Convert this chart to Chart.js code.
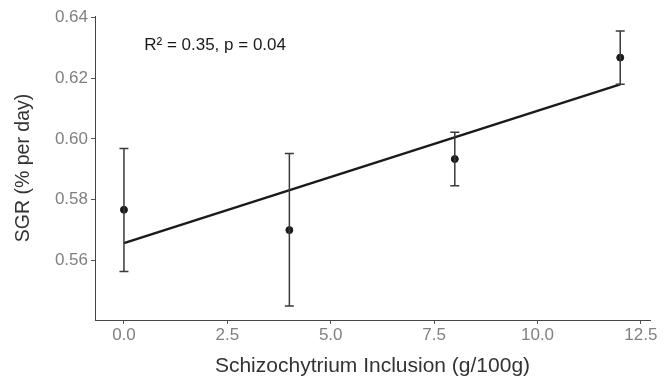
<!DOCTYPE html>
<html>
<head>
<meta charset="utf-8">
<script src="https://cdn.jsdelivr.net/npm/chart.js@4.4.1/dist/chart.umd.min.js"></script>
<style>
  html, body { margin: 0; padding: 0; background: #fff; }
  #wrap { width: 670px; height: 382px; }
</style>
</head>
<body>
<div id="wrap"><canvas id="chartSGR"></canvas></div>
<script>
/* ---------- datos ---------- */
const inclusion = [0, 4, 8, 12];
const sgrMedia = [0.5767, 0.5700, 0.5934, 0.6268];
const sgrInf = [0.5564, 0.5450, 0.5846, 0.6180];
const sgrSup = [0.5969, 0.5952, 0.6022, 0.6356];
const ajusteX = [0, 12];
const ajusteY = [0.5657, 0.6180];
const ticksX = [0, 2.5, 5, 7.5, 10, 12.5];
const ticksY = [0.56, 0.58, 0.60, 0.62, 0.64];
const textoStats = "R² = 0.35, p = 0.04";

const FONT = "'Liberation Sans', Arial, sans-serif";

/* barras de error + anotación */
const errorBars = {
    id: "errorBars",
    afterDatasetsDraw(chart) {
        const { ctx, scales: { x, y } } = chart;
        ctx.save();
        ctx.strokeStyle = "#3a3a3a";
        ctx.lineWidth = 1.5;
        inclusion.forEach((v, i) => {
            const px = x.getPixelForValue(v);
            const top = y.getPixelForValue(sgrSup[i]);
            const bot = y.getPixelForValue(sgrInf[i]);
            ctx.beginPath();
            ctx.moveTo(px, top); ctx.lineTo(px, bot);
            ctx.moveTo(px - 4.5, top); ctx.lineTo(px + 4.5, top);
            ctx.moveTo(px - 4.5, bot); ctx.lineTo(px + 4.5, bot);
            ctx.stroke();
        });
        ctx.fillStyle = "#1a1a1a";
        ctx.font = "17px " + FONT;
        ctx.textBaseline = "middle";
        ctx.fillText(textoStats, x.getPixelForValue(0.49), y.getPixelForValue(0.6308));
        ctx.restore();
    }
};

const ctx = document.getElementById("chartSGR");
new Chart(ctx, {
    type: "scatter",
    data: {
        datasets: [
            {
                type: "line",
                data: ajusteX.map((v, i) => ({ x: v, y: ajusteY[i] })),
                borderColor: "#1a1a1a",
                borderWidth: 2.5,
                pointRadius: 0,
                fill: false,
                order: 2
            },
            {
                data: inclusion.map((v, i) => ({ x: v, y: sgrMedia[i] })),
                backgroundColor: "#1a1a1a",
                borderColor: "#1a1a1a",
                pointRadius: 3.5,
                order: 1
            }
        ]
    },
    options: {
        responsive: true,
        maintainAspectRatio: false,
        animation: false,
        layout: { padding: { top: 16, right: 20, left: 0, bottom: 0 } },
        plugins: { legend: { display: false }, tooltip: { enabled: false } },
        scales: {
            x: {
                type: "linear",
                min: -0.7,
                max: 12.72,
                afterBuildTicks: s => { s.ticks = ticksX.map(v => ({ value: v })); },
                afterFit: s => { s.height = 62; },
                ticks: {
                    color: "#808080",
                    font: { family: FONT, size: 17 },
                    padding: 1,
                    callback: v => v.toFixed(1)
                },
                grid: { drawOnChartArea: false, drawTicks: true, tickLength: 4, tickColor: "#555", tickWidth: 1 },
                border: { display: true, color: "#444", width: 1 },
                title: {
                    display: true,
                    text: "Schizochytrium Inclusion (g/100g)",
                    color: "#333",
                    font: { family: FONT, size: 21 },
                    padding: { top: 0, bottom: 3 }
                }
            },
            y: {
                type: "linear",
                min: 0.5404,
                max: 0.6405,
                afterBuildTicks: s => { s.ticks = ticksY.map(v => ({ value: v })); },
                afterFit: s => { s.width = 95; },
                ticks: {
                    color: "#808080",
                    font: { family: FONT, size: 17 },
                    padding: 3,
                    callback: v => v.toFixed(2)
                },
                grid: { drawOnChartArea: false, drawTicks: true, tickLength: 4, tickColor: "#555", tickWidth: 1 },
                border: { display: true, color: "#444", width: 1 },
                title: {
                    display: true,
                    text: "SGR (% per day)",
                    color: "#333",
                    font: { family: FONT, size: 19.5 },
                    padding: { top: 12, bottom: 0 }
                }
            }
        }
    },
    plugins: [errorBars]
});
</script>
</body>
</html>
